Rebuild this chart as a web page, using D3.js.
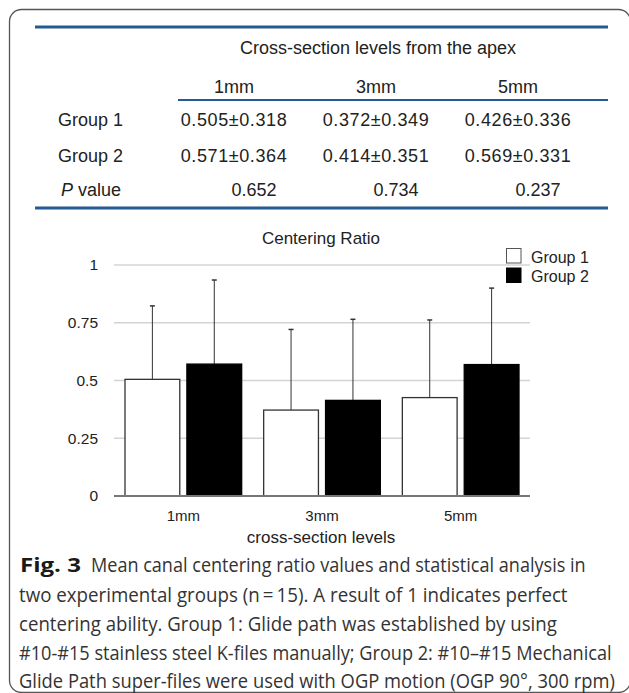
<!DOCTYPE html>
<html>
<head>
<meta charset="utf-8">
<script src="https://cdn.jsdelivr.net/npm/d3@7"></script>
<style>
  html, body { margin: 0; padding: 0; background: #fff; }
  svg { display: block; }
</style>
</head>
<body>
<svg id="fig" width="629" height="693"></svg>
<script>
// ---- data ----
const levels = ["1mm", "3mm", "5mm"];
const groups = ["Group 1", "Group 2"];
const group1Mean = [0.505, 0.372, 0.426];
const group1SD = [0.318, 0.349, 0.336];
const group2Mean = [0.571, 0.414, 0.569];
const group2SD = [0.364, 0.351, 0.331];
const pValues = ["0.652", "0.734", "0.237"];
const yTicks = [0, 0.25, 0.5, 0.75, 1];
const yTickLabels = ["0", "0.25", "0.5", "0.75", "1"];
const tableHeader = "Cross-section levels from the apex";
const chartTitle = "Centering Ratio";
const xAxisTitle = "cross-section levels";
const captionBold = "Fig. 3";
const captionLines = [
  "Mean canal centering ratio values and statistical analysis in",
  "two experimental groups (n\u2009=\u200915). A result of 1 indicates perfect",
  "centering ability. Group 1: Glide path was established by using",
  "#10-#15 stainless steel K-files manually; Group 2: #10\u2013#15 Mechanical",
  "Glide Path super-files were used with OGP motion (OGP 90\u00b0, 300 rpm)"
];

const svg = d3.select("#fig");
const sans = "'Liberation Sans', Arial, Helvetica, sans-serif";
const blue = "#245b93";

// frame
svg.append("rect")
  .attr("x", 9.5).attr("y", 9.5)
  .attr("width", 621).attr("height", 683)
  .attr("rx", 12).attr("ry", 12)
  .attr("fill", "none").attr("stroke", "#555").attr("stroke-width", 1.3);

// ---- table ----
const tbl = svg.append("g");
const colX = d3.scalePoint().domain(levels).range([234, 518]);
tbl.append("line").attr("x1", 35).attr("x2", 608).attr("y1", 27).attr("y2", 27)
  .attr("stroke", blue).attr("stroke-width", 3);
tbl.append("line").attr("x1", 178).attr("x2", 608).attr("y1", 100).attr("y2", 100)
  .attr("stroke", blue).attr("stroke-width", 2.2);
tbl.append("line").attr("x1", 35).attr("x2", 608).attr("y1", 208).attr("y2", 208)
  .attr("stroke", blue).attr("stroke-width", 3);

tbl.append("text").attr("x", 378).attr("y", 53.5)
  .attr("text-anchor", "middle").attr("font-family", sans).attr("font-size", 18)
  .attr("fill", "#222").text(tableHeader);

tbl.selectAll("text.col").data(levels).join("text")
  .attr("class", "col")
  .attr("x", d => colX(d)).attr("y", 92.5)
  .attr("text-anchor", "middle").attr("font-family", sans).attr("font-size", 18)
  .attr("fill", "#222").text(d => d);

const rows = [
  { label: groups[0], vals: levels.map((l, i) => group1Mean[i].toFixed(3) + "\u00b1" + group1SD[i].toFixed(3)), y: 125.5, lx: 58 },
  { label: groups[1], vals: levels.map((l, i) => group2Mean[i].toFixed(3) + "\u00b1" + group2SD[i].toFixed(3)), y: 161.5, lx: 58 }
];
rows.forEach(r => {
  tbl.append("text").attr("x", r.lx).attr("y", r.y)
    .attr("font-family", sans).attr("font-size", 18).attr("fill", "#222").text(r.label);
  tbl.selectAll(null).data(r.vals).join("text")
    .attr("x", (d, i) => colX(levels[i])).attr("y", r.y)
    .attr("text-anchor", "middle").attr("font-family", sans).attr("font-size", 18)
    .attr("letter-spacing", 0.6)
    .attr("fill", "#222").text(d => d);
});
const pt = tbl.append("text").attr("x", 61).attr("y", 195.5)
  .attr("font-family", sans).attr("font-size", 18).attr("fill", "#222");
pt.append("tspan").attr("font-style", "italic").text("P");
pt.append("tspan").text(" value");
tbl.selectAll("text.p").data(pValues).join("text")
  .attr("class", "p")
  .attr("x", (d, i) => colX(levels[i]) + 20).attr("y", 195.5)
  .attr("text-anchor", "middle").attr("font-family", sans).attr("font-size", 18)
  .attr("fill", "#222").text(d => d);

// ---- chart ----
const x0 = d3.scaleBand().domain(levels).range([114, 530]).paddingInner(0).paddingOuter(0);
const x1 = d3.scaleBand().domain(groups).range([11, x0.bandwidth() - 11]).paddingInner(0.115);
const y = d3.scaleLinear().domain([0, 1]).range([496, 265]);

const chart = svg.append("g");

chart.append("text").attr("x", 321).attr("y", 244)
  .attr("text-anchor", "middle").attr("font-family", sans).attr("font-size", 17)
  .attr("fill", "#222").text(chartTitle);

// gridlines
chart.selectAll("line.grid").data(yTicks.filter(d => d > 0)).join("line")
  .attr("class", "grid")
  .attr("x1", 114).attr("x2", 530)
  .attr("y1", d => y(d)).attr("y2", d => y(d))
  .attr("stroke", "#d4d4d4").attr("stroke-width", 1.5);

// y axis labels
const yAxis = d3.axisLeft(y).tickValues(yTicks)
  .tickFormat((d, i) => yTickLabels[i]).tickSize(0).tickPadding(16);
const ya = chart.append("g").attr("transform", "translate(114,0)").call(yAxis);
ya.select(".domain").remove();
ya.selectAll("text").attr("font-family", sans).attr("font-size", 15.5).attr("fill", "#222");

const series = [
  { name: groups[0], mean: group1Mean, sd: group1SD, fill: "#fff" },
  { name: groups[1], mean: group2Mean, sd: group2SD, fill: "#000" }
];

series.forEach(s => {
  const g = chart.append("g");
  g.selectAll("line.err").data(levels).join("line")
    .attr("class", "err")
    .attr("x1", (d) => x0(d) + x1(s.name) + x1.bandwidth() / 2)
    .attr("x2", (d) => x0(d) + x1(s.name) + x1.bandwidth() / 2)
    .attr("y1", (d, i) => y(s.mean[i]))
    .attr("y2", (d, i) => y(s.mean[i] + s.sd[i]))
    .attr("stroke", "#333").attr("stroke-width", 1);
  g.selectAll("line.cap").data(levels).join("line")
    .attr("class", "cap")
    .attr("x1", (d) => x0(d) + x1(s.name) + x1.bandwidth() / 2 - 2.5)
    .attr("x2", (d) => x0(d) + x1(s.name) + x1.bandwidth() / 2 + 2.5)
    .attr("y1", (d, i) => y(s.mean[i] + s.sd[i]))
    .attr("y2", (d, i) => y(s.mean[i] + s.sd[i]))
    .attr("stroke", "#333").attr("stroke-width", 1.5);
  g.selectAll("rect").data(levels).join("rect")
    .attr("x", d => x0(d) + x1(s.name))
    .attr("width", x1.bandwidth())
    .attr("y", (d, i) => y(s.mean[i]))
    .attr("height", (d, i) => y(0) - y(s.mean[i]))
    .attr("fill", s.fill)
    .attr("stroke", s.fill === "#000" ? "#000" : "#333")
    .attr("stroke-width", 1.3);
});

// baseline
chart.append("line").attr("x1", 114).attr("x2", 530)
  .attr("y1", y(0)).attr("y2", y(0))
  .attr("stroke", "#777").attr("stroke-width", 2);

// x labels
const xAxis = d3.axisBottom(x0).tickSize(0).tickPadding(14);
const xa = chart.append("g").attr("transform", `translate(0,${y(0)})`).call(xAxis);
xa.select(".domain").remove();
xa.selectAll("text").attr("font-family", sans).attr("font-size", 15).attr("fill", "#222");

chart.append("text").attr("x", 321).attr("y", 543)
  .attr("text-anchor", "middle").attr("font-family", sans).attr("font-size", 17)
  .attr("fill", "#222").text(xAxisTitle);

// legend
const lg = chart.append("g");
series.forEach((s, i) => {
  lg.append("rect").attr("x", 506.5).attr("y", 248.5 + i * 19.5)
    .attr("width", 14.5).attr("height", 14.5)
    .attr("fill", s.fill).attr("stroke", s.fill === "#000" ? "#000" : "#555").attr("stroke-width", 1);
  lg.append("text").attr("x", 531).attr("y", 262.5 + i * 19.5)
    .attr("font-family", sans).attr("font-size", 16).attr("fill", "#222").text(s.name);
});

// ---- caption (condensed by horizontal scaling to match the narrow original face) ----
const capFont = "'Open Sans', 'Noto Sans', sans-serif";
const capEnds = [586, 568, 557, 612, 615];
const capY = [572, 602, 631, 660, 688];
function fitText(str, x, yPos, targetW, bold, fill) {
  const t = svg.append("text")
    .attr("font-family", capFont).attr("font-size", 20)
    .attr("font-weight", bold ? "bold" : "normal")
    .attr("fill", fill).text(str);
  const w = t.node().getComputedTextLength();
  t.attr("transform", `translate(${x},${yPos}) scale(${targetW / w},1)`);
  return t;
}
const boldEnd = 81;
captionLines.forEach((line, i) => {
  if (i === 0) {
    fitText(captionBold, 20, capY[0], boldEnd - 20, true, "#1a1a1a");
    fitText(line, boldEnd + 10, capY[0], capEnds[0] - boldEnd - 10, false, "#333");
  } else {
    fitText(line, 19, capY[i], capEnds[i] - 19, false, "#333");
  }
});
</script>
</body>
</html>
